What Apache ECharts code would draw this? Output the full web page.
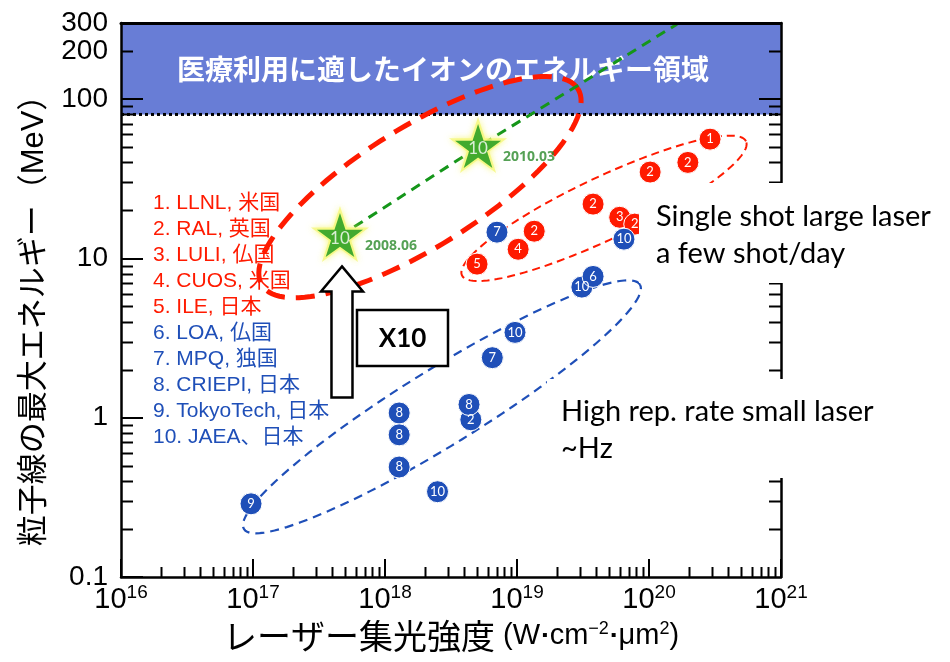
<!DOCTYPE html>
<html>
<head>
<meta charset="utf-8">
<script src="https://cdn.jsdelivr.net/npm/echarts@6/dist/echarts.min.js"></script>
<style>
  html, body { margin: 0; padding: 0; background: #fff; }
  #chart { width: 950px; height: 662px; }
</style>
</head>
<body>
<div id="chart"></div>
<script>
// Maximum ion energy reached vs. focused laser intensity, by laboratory.

// Single-shot large lasers (red)
const singleShotIntensity = [2.9e20, 1.97e20, 1.02e20, 3.77e19, 6.0e19, 7.8e19, 1.35e19, 1.02e19, 4.98e18];
const singleShotEnergy    = [56, 40, 34.8, 21.9, 18.1, 16.4, 14.8, 11.4, 9.2];
const singleShotLab       = [1, 2, 2, 2, 3, 2, 2, 4, 5];

// High repetition-rate small lasers (blue)
const highRepIntensity = [7.05e18, 6.46e19, 3.1e19, 3.77e19, 9.66e18, 6.5e18, 4.47e18, 4.33e18, 1.28e18, 1.28e18, 1.28e18, 2.5e18, 9.66e16];
const highRepEnergy    = [14.6, 13.2, 6.6, 7.7, 3.43, 2.38, 0.97, 1.21, 1.07, 0.78, 0.49, 0.343, 0.288];
const highRepLab       = [7, 10, 10, 6, 10, 7, 2, 8, 8, 8, 8, 10, 9];

// JAEA milestones (stars) and their trend toward the medical range
const jaeaIntensity = [4.56e17, 5.07e18];
const jaeaEnergy    = [13.8, 50];
const jaeaDate      = ['2008.06', '2010.03'];
const jaeaLab       = 10;
const trendEnd      = [1.63e20, 295];

// Ten-fold gain marker (MeV span of the arrow)
const gainSpan = [1.34, 8.9];

// Energy range suited to medical use (MeV)
const medicalRange = [80, 300];

const labNames = ['LLNL, 米国', 'RAL, 英国', 'LULI, 仏国', 'CUOS, 米国', 'ILE, 日本',
                  'LOA, 仏国', 'MPQ, 独国', 'CRIEPI, 日本', 'TokyoTech, 日本', 'JAEA、日本'];
const singleShotLabCount = 5;

const xExtent = [1e16, 1e21];
const yExtent = [0.1, 300];
const xTickValues  = [1e16, 1e17, 1e18, 1e19, 1e20, 1e21];
const yLabelValues = [0.1, 1, 10, 100, 200, 300];
const yTickValues  = [0.1, 1, 10, 100];
const yRightTickValues = [1, 10, 100];

// Group outlines in decades: centre, major and minor half-axis vectors (log10 x, log10 y)
const groupOutlines = [
  { name: 'jaea',       center: [1.84e18, 28],   major: [1.197, 0.616], minor: [-0.240, 0.321] },
  { name: 'singleShot', center: [4.56e19, 20.6], major: [1.076, 0.421], minor: [-0.100, 0.176] },
  { name: 'highRep',    center: [2.7e18, 1.17],  major: [1.5, 0.767],   minor: [-0.150, 0.205] }
];

const RED = '#ff1a00';
const BLUE = '#1f4fb8';
const GREEN = '#15961a';
const LATIN = '"Liberation Sans", "Noto Sans CJK JP", sans-serif';

const outlineStyles = {
  jaea:       { stroke: RED,  lineWidth: 5,   lineDash: [19, 11] },
  singleShot: { stroke: RED,  lineWidth: 2,   lineDash: [8, 5] },
  highRep:    { stroke: BLUE, lineWidth: 2.2, lineDash: [9, 6] }
};

// Keeps end values inside the axis extent despite floating-point rounding of the log scale
const clampTo = ext => v => Math.min(Math.max(v, ext[0] * (1 + 1e-12)), ext[1] * (1 - 1e-12));
const insideX = clampTo(xExtent);
const insideY = clampTo(yExtent);

// Minor tick values (2..9 per decade), generated from the axis extents
const xMinorValues = [];
for (let d = 16; d < 21; d++) for (let m = 2; m <= 9; m++) xMinorValues.push(m * Math.pow(10, d));
const yMinorValues = [];
for (let d = -1; d <= 2; d++) for (let m = 2; m <= 9; m++) {
  const v = m * Math.pow(10, d);
  if (v < yExtent[1]) yMinorValues.push(v);
}

function renderOutline(params, api) {
  const o = groupOutlines[params.dataIndex];
  const c = [Math.log10(o.center[0]), Math.log10(o.center[1])];
  const pts = [];
  const n = 120;
  for (let k = 0; k <= n; k++) {
    const t = (k / n) * Math.PI * 2;
    const lx = c[0] + Math.cos(t) * o.major[0] + Math.sin(t) * o.minor[0];
    const ly = c[1] + Math.cos(t) * o.major[1] + Math.sin(t) * o.minor[1];
    pts.push(api.coord([Math.pow(10, lx), Math.pow(10, ly)]));
  }
  const s = outlineStyles[o.name];
  return {
    type: 'polyline',
    shape: { points: pts },
    style: { stroke: s.stroke, lineWidth: s.lineWidth, lineDash: s.lineDash, fill: null }
  };
}

function renderBand(params, api) {
  const lo = api.coord([xExtent[0], medicalRange[0]]);
  const hi = api.coord([xExtent[1], medicalRange[1]]);
  return {
    type: 'group',
    children: [
      { type: 'rect', shape: { x: lo[0], y: hi[1], width: hi[0] - lo[0], height: lo[1] - hi[1] },
        style: { fill: '#687dd6' } },
      { type: 'line', shape: { x1: lo[0], y1: lo[1], x2: hi[0], y2: lo[1] },
        style: { stroke: '#000', lineWidth: 3, lineDash: [3, 3] } },
      { type: 'text', x: (lo[0] + hi[0]) / 2 - 8, y: (lo[1] + hi[1]) / 2 + 1,
        style: { text: '医療利用に適したイオンのエネルギー領域', fill: '#fff',
                 font: 'bold 28px "Noto Sans CJK JP", sans-serif', align: 'center', verticalAlign: 'middle' } }
    ]
  };
}

function renderMinorTicks(params, api) {
  const bl = api.coord([xExtent[0], yExtent[0]]);
  const tr = api.coord([xExtent[1], yExtent[1]]);
  const children = [];
  const st = { stroke: '#000', lineWidth: 2 };
  yMinorValues.forEach(v => {
    const y = Math.round(api.coord([xExtent[0], v])[1]) + 0.5;
    children.push({ type: 'line', shape: { x1: bl[0], y1: y, x2: bl[0] + 12, y2: y }, style: st });
    children.push({ type: 'line', shape: { x1: tr[0] - 12, y1: y, x2: tr[0], y2: y }, style: st });
  });
  xMinorValues.forEach(v => {
    const x = Math.round(api.coord([v, yExtent[0]])[0]) + 0.5;
    children.push({ type: 'line', shape: { x1: x, y1: bl[1], x2: x, y2: bl[1] - 10 }, style: st });
  });
  return { type: 'group', children };
}

function renderGainArrow(params, api) {
  const x = api.value(0);
  const base = api.coord([x, api.value(1)]);
  const tip = api.coord([x, api.value(2)]);
  const cx = base[0] + 2;
  const shaftHalf = 10.5, headHalf = 21, headLen = 25;
  const neck = tip[1] + headLen;
  return {
    type: 'polygon',
    shape: { points: [
      [cx, tip[1]], [cx + headHalf, neck], [cx + shaftHalf, neck], [cx + shaftHalf, base[1]],
      [cx - shaftHalf, base[1]], [cx - shaftHalf, neck], [cx - headHalf, neck]
    ] },
    style: { fill: '#fff', stroke: '#000', lineWidth: 2.5, lineJoin: 'miter' }
  };
}

const circleLabel = {
  show: true, position: 'inside', color: '#fff', fontSize: 13,
  fontFamily: 'Lato, "Open Sans", sans-serif', formatter: p => String(p.data[2])
};

const STAR = 'path://M50,0 L61.8,35.5 L99,35.5 L69,57.5 L80.5,93 L50,71 L19.5,93 L31,57.5 L1,35.5 L38.2,35.5 Z';
const NOTE_FONT = '29px Lato, sans-serif';
const TOP = 100;

const chart = echarts.init(document.getElementById('chart'), null, { renderer: 'canvas' });

chart.setOption({
  animation: false,
  backgroundColor: '#fff',
  grid: { left: 121, right: 169, top: 23, bottom: 85, containLabel: false, outerBoundsMode: 'none' },
  xAxis: [
    {
      type: 'log', logBase: 10, min: xExtent[0], max: xExtent[1], position: 'bottom', z: 8,
      axisLine: { lineStyle: { color: '#000', width: 2.5 } },
      axisTick: { inside: true, length: 18, customValues: xTickValues.map(insideX), lineStyle: { color: '#000', width: 2 } },
      splitLine: { show: false },
      axisLabel: {
        customValues: xTickValues.map(insideX), margin: 6, showMinLabel: true, showMaxLabel: true, hideOverlap: false,
        formatter: v => '{b|10}{s|' + Math.round(Math.log10(v)) + '}',
        rich: {
          b: { fontSize: 29, fontFamily: LATIN, color: '#000' },
          s: { fontSize: 19, fontFamily: LATIN, color: '#000', padding: [0, 0, 14, 0] }
        }
      },
      name: '{c|レーザー集光強度}{a| (W}{d|▪}{a|cm}{s|−2}{d|▪}{a|μm}{s|2}{a|)}',
      nameLocation: 'middle', nameGap: 41,
      nameTextStyle: {
        rich: {
          c: { fontSize: 34, fontFamily: '"Noto Sans CJK JP", sans-serif', color: '#000' },
          a: { fontSize: 29, fontFamily: LATIN, color: '#000' },
          s: { fontSize: 18, fontFamily: LATIN, color: '#000', padding: [0, 0, 14, 0] },
          d: { fontSize: 16, fontFamily: LATIN, color: '#000', padding: [0, 2, 0, 2] }
        }
      }
    },
    {
      type: 'log', logBase: 10, min: xExtent[0], max: xExtent[1], position: 'top', z: 8,
      axisLine: { lineStyle: { color: '#000', width: 3 } },
      axisTick: { show: false }, axisLabel: { show: false }, splitLine: { show: false }
    }
  ],
  yAxis: [
    {
      type: 'log', logBase: 10, min: yExtent[0], max: yExtent[1], position: 'left', z: 8,
      axisLine: { lineStyle: { color: '#000', width: 2.5 } },
      axisTick: { inside: true, length: 22, customValues: yTickValues.map(insideY), lineStyle: { color: '#000', width: 2 } },
      splitLine: { show: false },
      axisLabel: {
        customValues: yLabelValues.map(insideY), margin: 13, fontSize: 28, fontFamily: LATIN, color: '#000',
        showMinLabel: true, showMaxLabel: true, hideOverlap: false,
        formatter: v => String(Number(v.toPrecision(6)))
      },
      name: '粒子線の最大エネルギー（MeV）',
      nameLocation: 'middle', nameRotate: 90, nameGap: 70,
      nameTextStyle: { fontSize: 31, fontFamily: LATIN, color: '#000', padding: [0, 26, 0, 0] }
    },
    {
      type: 'log', logBase: 10, min: yExtent[0], max: yExtent[1], position: 'right', z: 8,
      axisLine: { lineStyle: { color: '#000', width: 2.5 } },
      axisTick: { inside: true, length: 22, customValues: yRightTickValues, lineStyle: { color: '#000', width: 2 } },
      axisLabel: { show: false }, splitLine: { show: false }
    }
  ],
  series: [
    {
      type: 'custom', name: 'medical', z: 1, silent: true,
      data: [[xExtent[0], medicalRange[0]]],
      renderItem: renderBand
    },
    {
      type: 'custom', name: 'outlines', z: 3, silent: true,
      data: groupOutlines.map(o => [o.center[0], o.center[1]]),
      renderItem: renderOutline
    },
    {
      type: 'line', name: 'trend', z: 3, silent: true, symbol: 'none',
      data: [[jaeaIntensity[0], jaeaEnergy[0]], [jaeaIntensity[1], jaeaEnergy[1]], trendEnd],
      lineStyle: { color: GREEN, width: 3, type: [10, 7] }
    },
    {
      type: 'scatter', name: 'single shot', z: 4, silent: true,
      symbol: 'circle', symbolSize: 22,
      data: singleShotIntensity.map((x, i) => [x, singleShotEnergy[i], singleShotLab[i]]),
      itemStyle: { color: RED, borderColor: '#fff', borderWidth: 1, opacity: 1 },
      label: circleLabel
    },
    {
      type: 'scatter', name: 'high rep', z: 5, silent: true,
      symbol: 'circle', symbolSize: 22,
      data: highRepIntensity.map((x, i) => [x, highRepEnergy[i], highRepLab[i]]),
      itemStyle: { color: BLUE, borderColor: '#fff', borderWidth: 1, opacity: 1 },
      label: circleLabel
    },
    {
      type: 'custom', name: 'gain', z: 6, silent: true,
      data: [[jaeaIntensity[0], gainSpan[0], gainSpan[1]]],
      renderItem: renderGainArrow
    },
    {
      // yellow halo behind the JAEA stars
      type: 'scatter', name: 'JAEA halo', z: 6, silent: true,
      symbol: STAR, symbolSize: [58, 56], symbolOffset: [0, -2],
      data: jaeaIntensity.map((x, i) => [x, jaeaEnergy[i]]),
      itemStyle: { color: '#f5f77a', shadowBlur: 6, shadowColor: 'rgba(245,245,90,0.9)' }
    },
    {
      type: 'scatter', name: 'JAEA', z: 7, silent: true,
      symbol: STAR, symbolSize: [46, 44], symbolOffset: [0, -1],
      data: jaeaIntensity.map((x, i) => [x, jaeaEnergy[i], jaeaLab]),
      itemStyle: { color: GREEN },
      label: { show: true, position: 'inside', offset: [0, 3], color: '#fff', fontSize: 17,
               fontFamily: 'Lato, sans-serif', formatter: p => String(p.data[2]) }
    },
    {
      type: 'scatter', name: 'JAEA dates', z: 7, silent: true,
      symbolSize: 0,
      data: jaeaIntensity.map((x, i) => [x, jaeaEnergy[i], jaeaDate[i]]),
      itemStyle: { color: 'transparent' },
      label: { show: true, position: [25, 3], color: '#2a8a2a', fontSize: 14, fontWeight: 'bold',
               fontFamily: '"Open Sans", sans-serif', formatter: p => p.data[2] }
    },
    {
      type: 'custom', name: 'minor ticks', z: 8, silent: true,
      data: [[xExtent[0], yExtent[0]]],
      renderItem: renderMinorTicks
    }
  ],
  graphic: [
    ...labNames.map((n, i) => ({
      type: 'text', x: 153, y: 203 + i * 26, z: 50, silent: true,
      style: { text: (i + 1) + '. ' + n, fill: i < singleShotLabCount ? RED : BLUE,
               font: '21px "Liberation Sans", "Noto Sans CJK JP", sans-serif', verticalAlign: 'middle' }
    })),
    { type: 'rect', x: 357, y: 310, z: 60, silent: true,
      shape: { x: 0, y: 0, width: 91, height: 56 }, style: { fill: '#fff', stroke: '#000', lineWidth: 2.5 } },
    { type: 'text', x: 402.5, y: 339, z: 61, silent: true,
      style: { text: 'X10', fill: '#000', font: 'bold 26px Lato, sans-serif', align: 'center', verticalAlign: 'middle' } },

    { type: 'rect', x: 639, y: 183, z: TOP, silent: true,
      shape: { x: 0, y: 0, width: 311, height: 100 }, style: { fill: '#fff' } },
    { type: 'text', x: 656, y: 217, z: TOP + 1, silent: true,
      style: { text: 'Single shot large laser', fill: '#000', font: NOTE_FONT, verticalAlign: 'middle' } },
    { type: 'text', x: 656, y: 254, z: TOP + 1, silent: true,
      style: { text: 'a few shot/day', fill: '#000', font: NOTE_FONT, verticalAlign: 'middle' } },

    { type: 'rect', x: 547, y: 379, z: TOP, silent: true,
      shape: { x: 0, y: 0, width: 360, height: 99 }, style: { fill: '#fff' } },
    { type: 'text', x: 561, y: 412, z: TOP + 1, silent: true,
      style: { text: 'High rep. rate small laser', fill: '#000', font: NOTE_FONT, verticalAlign: 'middle' } },
    { type: 'text', x: 561, y: 449, z: TOP + 1, silent: true,
      style: { text: '~Hz', fill: '#000', font: NOTE_FONT, verticalAlign: 'middle' } }
  ]
});
</script>
</body>
</html>
